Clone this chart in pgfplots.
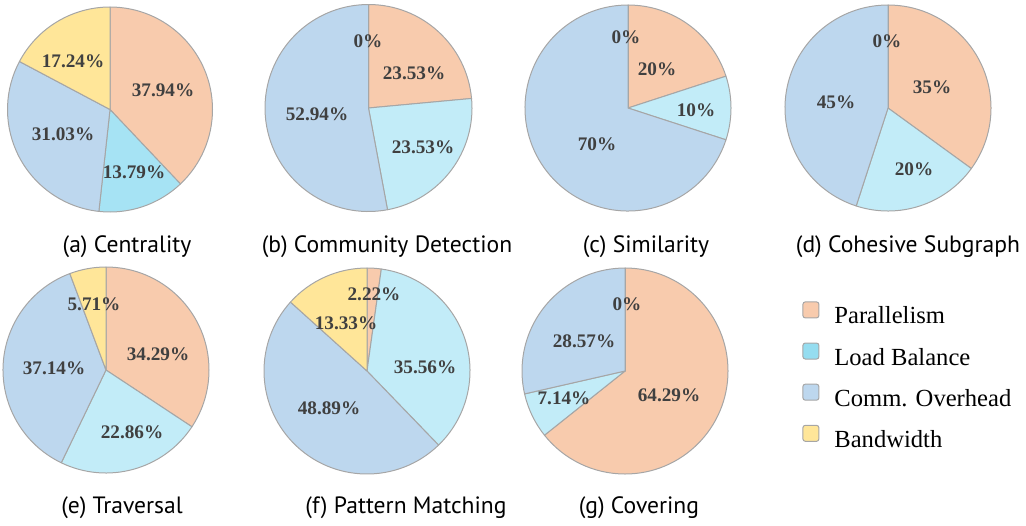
\documentclass[border=0pt]{standalone}
\usepackage{pgfplots}
\pgfplotsset{compat=1.18}
\usepackage{pgfplotstable}
\usepackage{fontspec}
\setmainfont{Liberation Serif}
\newfontfamily\capfont{PT Sans}

\definecolor{par}{HTML}{F8CBAD}
\definecolor{lba}{HTML}{A6E3F4}
\definecolor{lb}{HTML}{C2ECF8}
\definecolor{lbleg}{HTML}{95DDF0}
\definecolor{com}{HTML}{BDD7EE}
\definecolor{bw}{HTML}{FFE699}
\definecolor{edge}{HTML}{A6A6A6}
\definecolor{txt}{HTML}{404040}

\pgfdeclareplotmark{nothing}{}

% slices: pie centre (cx,cy) in px, radius r in px, start/end cumulative percent,
% colour class c: 1 Parallelism, 2 Load Balance, 3 Comm. Overhead, 4 Bandwidth, 5 Load Balance (a)
\pgfplotstableread{
cx   cy    r    s      e      c
110  109.5 102.5 0     37.94  1
110  109.5 102.5 37.94 51.73  5
110  109.5 102.5 51.73 82.76  3
110  109.5 102.5 82.76 100    4
368.5 108  103.5 0     23.53  1
368.5 108  103.5 23.53 47.06  2
368.5 108  103.5 47.06 100    3
368.5 108  103.5 100   100    4
628  108   103   0     20     1
628  108   103   20    30     2
628  108   103   30    100    3
628  108   103   100   100    4
888  108   103   0     35     1
888  108   103   35    55     2
888  108   103   55    100    3
888  108   103   100   100    4
106  370   103   0     34.29  1
106  370   103   34.29 57.15  2
106  370   103   57.15 94.29  3
106  370   103   94.29 100    4
367  371   103   0     2.22   1
367  371   103   2.22  37.78  2
367  371   103   37.78 86.67  3
367  371   103   86.67 100    4
625  371   103   0     64.29  1
625  371   103   64.29 71.43  2
625  371   103   71.43 100    3
625  371   103   100   100    4
}\slices

% percentage labels at their positions (px)
\pgfplotstableread{
x    y    lab
163  90   37.94
73   61   17.24
63   134  31.03
134  172  13.79
368  41   0
414  73   23.53
317  114  52.94
423  147  23.53
626  37   0
657  69   20
696  110  10
597  144  70
887  41   0
932  87   35
836  102  45
914  169  20
94   304  5.71
158  354  34.29
54   368  37.14
132  432  22.86
374  294  2.22
346  323  13.33
425  367  35.56
329  408  48.89
627  304  0
584  341  28.57
564  398  7.14
669  395  64.29
}\labels

\begin{document}
\begin{tikzpicture}
\begin{axis}[
  x=0.5pt, y=0.5pt, y dir=reverse,
  xmin=0, xmax=1026, ymin=0, ymax=525,
  hide axis, clip=false,
  legend style={at={(axis cs:796,297)}, anchor=north west, draw=none, fill=none,
    font=\fontsize{12.3}{14}\selectfont, row sep=5.8pt,
    /tikz/every odd column/.append style={column sep=5.5pt}},
  legend cell align=left,
  legend image code/.code={\draw[#1, draw=edge, line width=0.5pt, rounded corners=1.2pt] (0pt,-0.5pt) rectangle (8pt,7.5pt);},
]
\addlegendimage{fill=par}
\addlegendentry{Parallelism}
\addlegendimage{fill=lbleg}
\addlegendentry{Load Balance}
\addlegendimage{fill=com}
\addlegendentry{Comm. Overhead}
\addlegendimage{fill=bw}
\addlegendentry{Bandwidth}

\addplot[scatter, only marks, mark=nothing, forget plot,
  visualization depends on={\thisrow{s} \as \sS},
  visualization depends on={\thisrow{e} \as \sE},
  visualization depends on={\thisrow{r} \as \rR},
  visualization depends on={\thisrow{c} \as \cC},
  scatter/@pre marker code/.code={%
    \pgfmathsetmacro\aS{90-3.6*\sS}%
    \pgfmathsetmacro\aE{90-3.6*\sE}%
    \pgfmathsetmacro\rad{0.5*\rR}%
    \pgfmathtruncatemacro\ci{\cC}%
    \edef\slicecol{\ifcase\ci\or par\or lb\or com\or bw\or lba\fi}%
    \filldraw[fill=\slicecol, draw=edge, line width=0.5pt, line join=round]
      (0,0) -- (\aS:\rad pt) arc[start angle=\aS, end angle=\aE, radius=\rad pt] -- cycle;%
  },
  scatter/@post marker code/.code={},
] table[x=cx, y=cy] {\slices};

\addplot[only marks, mark=nothing, forget plot,
  point meta=explicit symbolic,
  nodes near coords={\pgfplotspointmeta\%},
  every node near coord/.append style={anchor=center, inner sep=0pt,
    font=\bfseries\fontsize{9.6}{10}\selectfont, text=txt},
] table[x=x, y=y, meta=lab] {\labels};

\begin{scope}[every node/.style={anchor=base, font=\capfont\fontsize{11.8}{14}\selectfont}]
\node at (axis cs:127,252) {(a) Centrality};
\node at (axis cs:387,252) {(b) Community Detection};
\node at (axis cs:646,252) {(c) Similarity};
\node at (axis cs:908,252) {(d) Cohesive Subgraph};
\node at (axis cs:122,513) {(e) Traversal};
\node at (axis cs:406,513) {(f) Pattern Matching};
\node at (axis cs:639,513) {(g) Covering};
\end{scope}
\end{axis}
\pgfresetboundingbox
\path[use as bounding box] (current axis.south west) rectangle (current axis.north east);
\end{tikzpicture}
\end{document}
